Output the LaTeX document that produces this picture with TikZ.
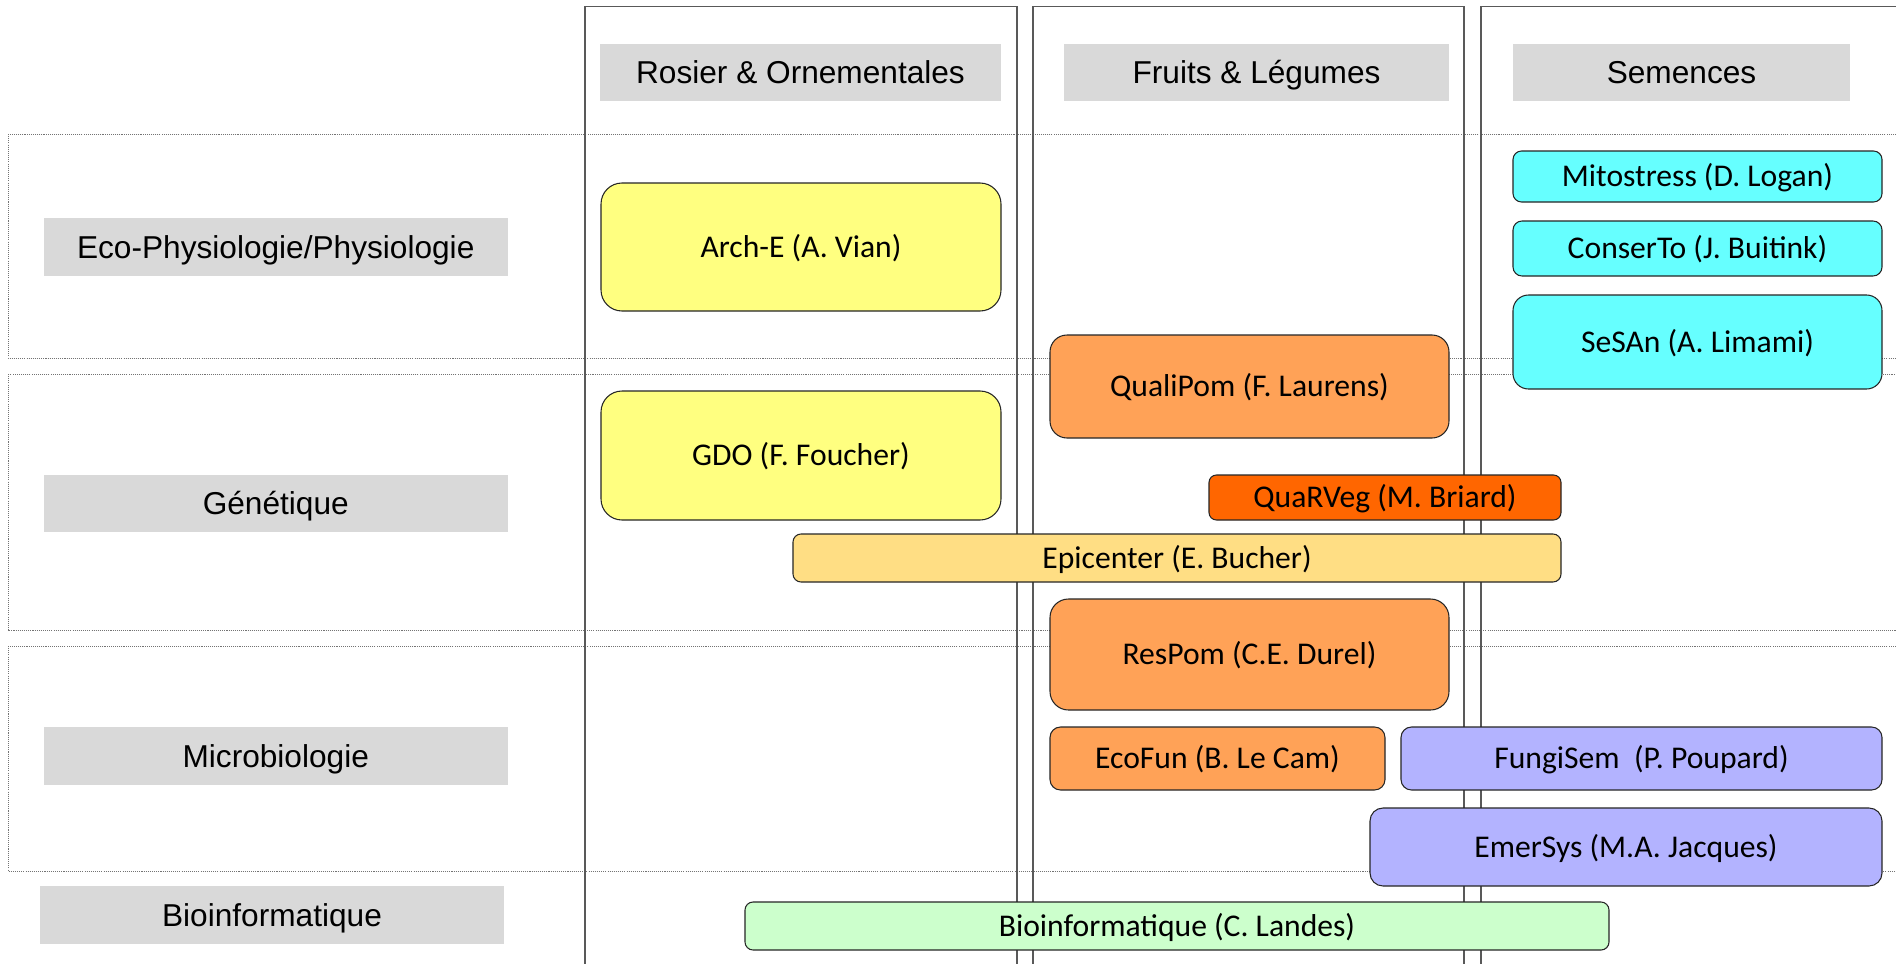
\documentclass[tikz,border=0pt]{standalone}
\usepackage{fontspec}
\usepackage{tikz}
\usetikzlibrary{positioning}
\usepackage{xcolor}
\newfontfamily\labfont{Liberation Sans}
\newfontfamily\projfont{Carlito}
\definecolor{hdrgray}{HTML}{D9D9D9}
\definecolor{archyellow}{HTML}{FFFF80}
\definecolor{pomorange}{HTML}{FFA257}
\definecolor{vegorange}{HTML}{FF6600}
\definecolor{epiyellow}{HTML}{FFDE84}
\definecolor{semcyan}{HTML}{66FFFF}
\definecolor{microlav}{HTML}{B3B3FF}
\definecolor{bioigreen}{HTML}{CCFFCC}

\begin{document}
\begin{tikzpicture}[
    hdr/.style={fill=hdrgray, inner sep=0pt, minimum height=1.15cm, text height=12.9pt, text depth=0pt, font=\labfont\fontsize{18}{21}\selectfont},
    proj/.style={draw=black!85, line width=0.6pt, rounded corners=#1, inner sep=0pt, text height=11.6pt, text depth=0pt, font=\projfont\fontsize{18}{21}\selectfont},
    band/.style={draw=black!55, line width=0.5pt, dash pattern=on 0.6pt off 0.6pt},
    col/.style={draw=black!65, line width=0.8pt}
  ]
      \fill[white] (0,0) rectangle (37.92,-19.28);
      \useasboundingbox (0,0) rectangle (37.92,-19.28);

      % Dotted bands for the research themes
      \draw[band] (0.16,-2.68) rectangle (39,-7.16);
      \draw[band] (0.16,-7.48) rectangle (39,-12.60);
      \draw[band] (0.16,-12.92) rectangle (39,-17.42);

      % Columns for the plant sectors
      \draw[col] (11.70,-0.13) rectangle (20.34,-20);
      \draw[col] (20.66,-0.13) rectangle (29.28,-20);
      \draw[col] (29.62,-0.13) rectangle (39,-20);

      % Column titles
      \node[hdr, minimum width=8.02cm] (rosier) at (16.01,-1.45) {Rosier \& Ornementales};
      \node[hdr, minimum width=7.70cm] (fruits) at (25.13,-1.45) {Fruits \& Légumes};
      \node[hdr, minimum width=6.74cm] (semences) at (33.63,-1.45) {Semences};

      % Row titles
      \node[hdr, minimum width=9.29cm] (ecophy) at (5.515,-4.94) {Eco-Physiologie/Physiologie};
      \node[hdr, minimum width=9.29cm] (genet) at (5.515,-10.07) {Génétique};
      \node[hdr, minimum width=9.29cm] (microbio) at (5.515,-15.12) {Microbiologie};
      \node[hdr, minimum width=9.28cm] (bioinfo) at (5.44,-18.30) {Bioinformatique};

      % Rosier projects
      \node[proj=0.42cm, fill=archyellow, minimum width=8.00cm, minimum height=2.56cm] (archE) at (16.02,-4.94) {Arch-E (A. Vian)};
      \node[proj=0.42cm, fill=archyellow, minimum width=8.00cm, minimum height=2.58cm] (gdo) at (16.02,-9.11) {GDO (F. Foucher)};

      % Fruits projects
      \node[proj=0.34cm, fill=pomorange, minimum width=7.98cm, minimum height=2.06cm] (qualipom) at (24.99,-7.73) {QualiPom (F. Laurens)};
      \node[proj=0.15cm, fill=vegorange, minimum width=7.04cm, minimum height=0.90cm] (quarveg) at (27.70,-9.95) {QuaRVeg (M. Briard)};
      \node[proj=0.16cm, fill=epiyellow, minimum width=15.36cm, minimum height=0.96cm] (epicenter) at (23.54,-11.16) {Epicenter (E. Bucher)};
      \node[proj=0.37cm, fill=pomorange, minimum width=7.98cm, minimum height=2.22cm] (respom) at (24.99,-13.09) {ResPom (C.E. Durel)};
      \node[proj=0.21cm, fill=pomorange, minimum width=6.70cm, minimum height=1.26cm] (ecofun) at (24.35,-15.17) {EcoFun (B. Le Cam)};

      % Semences projects
      \node[proj=0.17cm, fill=semcyan, minimum width=7.38cm, minimum height=1.02cm] (mitostress) at (33.95,-3.53) {Mitostress (D. Logan)};
      \node[proj=0.18cm, fill=semcyan, minimum width=7.38cm, minimum height=1.10cm] (conserto) at (33.95,-4.97) {ConserTo (J. Buitink)};
      \node[proj=0.31cm, fill=semcyan, minimum width=7.38cm, minimum height=1.88cm] (sesan) at (33.95,-6.84) {SeSAn (A. Limami)};
      \node[proj=0.21cm, fill=microlav, minimum width=9.62cm, minimum height=1.26cm] (fungisem) at (32.83,-15.17) {FungiSem\ \ (P. Poupard)};
      \node[proj=0.26cm, fill=microlav, minimum width=10.24cm, minimum height=1.56cm] (emersys) at (32.52,-16.94) {EmerSys (M.A. Jacques)};

      % Bioinformatics across sectors
      \node[proj=0.16cm, fill=bioigreen, minimum width=17.28cm, minimum height=0.96cm] (landes) at (23.54,-18.52) {Bioinformatique (C. Landes)};
  \end{tikzpicture}
\end{document}
